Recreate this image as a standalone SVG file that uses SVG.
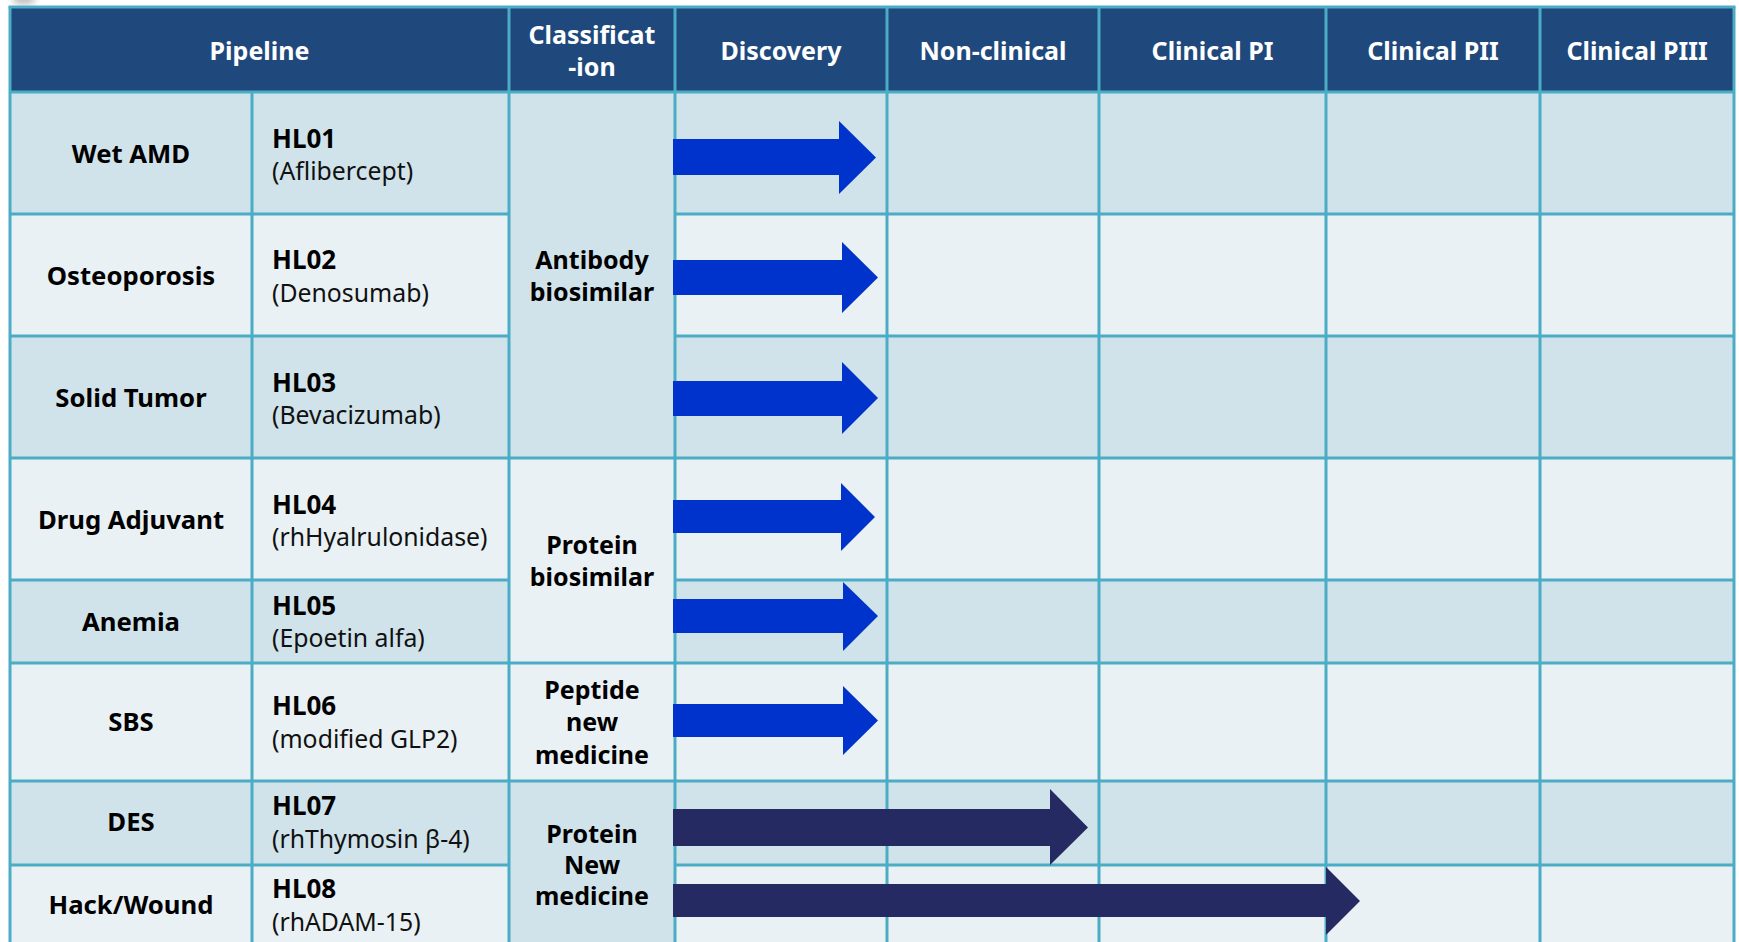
<svg xmlns="http://www.w3.org/2000/svg" width="1739" height="942" viewBox="0 0 1739 942">
<defs>
<style>
.hdr{fill:#1F497D}
.dk{fill:#D0E3EA}
.lt{fill:#E9F1F5}
.grid line{stroke:#4BACC6;stroke-width:3}
.ht{font-family:"Noto Sans","Open Sans","DejaVu Sans",sans-serif;font-weight:bold;font-size:25px;fill:#FFFFFF;text-anchor:middle}
.nm{font-family:"Noto Sans","Open Sans","DejaVu Sans",sans-serif;font-weight:bold;font-size:25.7px;fill:#000;text-anchor:middle}
.cd{font-family:"Noto Sans","Open Sans","DejaVu Sans",sans-serif;font-weight:bold;font-size:26px;fill:#000}
.sb{font-family:"Noto Sans","Open Sans","DejaVu Sans",sans-serif;font-size:24.8px;fill:#111}
.cl{font-family:"Noto Sans","Open Sans","DejaVu Sans",sans-serif;font-weight:bold;font-size:25px;fill:#000;text-anchor:middle}
.ab{fill:#0033CC}
.an{fill:#252A62}
</style>
<filter id="blur" x="-50%" y="-50%" width="200%" height="200%"><feGaussianBlur stdDeviation="3"/></filter>
</defs>
<rect width="1739" height="942" fill="#FFFFFF"/>
<ellipse cx="24" cy="0" rx="12" ry="4" fill="#B8B8B8" filter="url(#blur)"/>

<g id="header">
<rect class="hdr" x="10" y="7" width="1724" height="85"/>
<text class="ht" x="259.5" y="60">Pipeline</text>
<text class="ht" x="592" y="44">Classificat</text>
<text class="ht" x="592" y="76">-ion</text>
<text class="ht" x="781" y="60">Discovery</text>
<text class="ht" x="993" y="60">Non-clinical</text>
<text class="ht" x="1212.5" y="60">Clinical PI</text>
<text class="ht" x="1433" y="60">Clinical PII</text>
<text class="ht" x="1637" y="60">Clinical PIII</text>
</g>

<g id="row-backgrounds">
<rect class="dk" x="10" y="92" width="1724" height="122"/>
<rect class="lt" x="10" y="214" width="1724" height="122"/>
<rect class="dk" x="10" y="336" width="1724" height="122"/>
<rect class="lt" x="10" y="458" width="1724" height="122"/>
<rect class="dk" x="10" y="580" width="1724" height="83"/>
<rect class="lt" x="10" y="663" width="1724" height="118"/>
<rect class="dk" x="10" y="781" width="1724" height="84"/>
<rect class="lt" x="10" y="865" width="1724" height="77"/>
</g>

<g id="classification-cells">
<rect class="dk" x="509" y="92" width="166" height="366"/>
<rect class="lt" x="509" y="458" width="166" height="205"/>
<rect class="lt" x="509" y="663" width="166" height="118"/>
<rect class="dk" x="509" y="781" width="166" height="161"/>
</g>

<g id="grid" class="grid">
<line x1="8.5" y1="7" x2="1735.5" y2="7"/>
<line x1="10" y1="92" x2="1734" y2="92"/>
<line x1="10" y1="214" x2="509" y2="214"/>
<line x1="675" y1="214" x2="1734" y2="214"/>
<line x1="10" y1="336" x2="509" y2="336"/>
<line x1="675" y1="336" x2="1734" y2="336"/>
<line x1="10" y1="458" x2="1734" y2="458"/>
<line x1="10" y1="580" x2="509" y2="580"/>
<line x1="675" y1="580" x2="1734" y2="580"/>
<line x1="10" y1="663" x2="1734" y2="663"/>
<line x1="10" y1="781" x2="1734" y2="781"/>
<line x1="10" y1="865" x2="509" y2="865"/>
<line x1="675" y1="865" x2="1734" y2="865"/>
<line x1="10" y1="7" x2="10" y2="942"/>
<line x1="252" y1="92" x2="252" y2="942"/>
<line x1="509" y1="7" x2="509" y2="942"/>
<line x1="675" y1="7" x2="675" y2="942"/>
<line x1="887" y1="7" x2="887" y2="942"/>
<line x1="1099" y1="7" x2="1099" y2="942"/>
<line x1="1326" y1="7" x2="1326" y2="942"/>
<line x1="1540" y1="7" x2="1540" y2="942"/>
<line x1="1734" y1="7" x2="1734" y2="942"/>
</g>

<g id="row-HL01">
<text class="nm" x="131" y="163">Wet AMD</text>
<text class="cd" x="272" y="147.5">HL01</text>
<text class="sb" x="272" y="180">(Aflibercept)</text>
</g>
<g id="row-HL02">
<text class="nm" x="131" y="285">Osteoporosis</text>
<text class="cd" x="272" y="269">HL02</text>
<text class="sb" x="272" y="301.5">(Denosumab)</text>
</g>
<g id="row-HL03">
<text class="nm" x="131" y="407">Solid Tumor</text>
<text class="cd" x="272" y="391.5">HL03</text>
<text class="sb" x="272" y="423.5">(Bevacizumab)</text>
</g>
<g id="row-HL04">
<text class="nm" x="131" y="529">Drug Adjuvant</text>
<text class="cd" x="272" y="513.5">HL04</text>
<text class="sb" x="272" y="545.5">(rhHyalrulonidase)</text>
</g>
<g id="row-HL05">
<text class="nm" x="131" y="630.5">Anemia</text>
<text class="cd" x="272" y="615">HL05</text>
<text class="sb" x="272" y="647">(Epoetin alfa)</text>
</g>
<g id="row-HL06">
<text class="nm" x="131" y="730.5">SBS</text>
<text class="cd" x="272" y="715">HL06</text>
<text class="sb" x="272" y="747.5">(modified GLP2)</text>
</g>
<g id="row-HL07">
<text class="nm" x="131" y="831">DES</text>
<text class="cd" x="272" y="815">HL07</text>
<text class="sb" x="272" y="847.5">(rhThymosin β-4)</text>
</g>
<g id="row-HL08">
<text class="nm" x="131" y="914">Hack/Wound</text>
<text class="cd" x="272" y="898">HL08</text>
<text class="sb" x="272" y="930.5">(rhADAM-15)</text>
</g>

<g id="class-antibody-biosimilar">
<text class="cl" x="592" y="269">Antibody</text>
<text class="cl" x="592" y="300.5">biosimilar</text>
</g>
<g id="class-protein-biosimilar">
<text class="cl" x="592" y="554">Protein</text>
<text class="cl" x="592" y="586">biosimilar</text>
</g>
<g id="class-peptide-new-medicine">
<text class="cl" x="592" y="698.5">Peptide</text>
<text class="cl" x="592" y="731">new</text>
<text class="cl" x="592" y="763.5">medicine</text>
</g>
<g id="class-protein-new-medicine">
<text class="cl" x="592" y="842.5">Protein</text>
<text class="cl" x="592" y="874">New</text>
<text class="cl" x="592" y="905">medicine</text>
</g>

<g id="connectors">
<polygon class="ab" points="673,139 839,139 839,121 876,157.5 839,194 839,175 673,175"/>
<polygon class="ab" points="673,260 842,260 842,242 878,277.5 842,313 842,295 673,295"/>
<polygon class="ab" points="673,381 842,381 842,362 878,398 842,434 842,416 673,416"/>
<polygon class="ab" points="673,500 841,500 841,483 875,517 841,551 841,533 673,533"/>
<polygon class="ab" points="673,599 843,599 843,582 878,616 843,651 843,633 673,633"/>
<polygon class="ab" points="673,704 843,704 843,686 878,720.5 843,755 843,737 673,737"/>
<polygon class="an" points="673,809 1050,809 1050,789 1088,827.5 1050,865 1050,846 673,846"/>
<polygon class="an" points="673,884 1326,884 1326,867 1360,901 1326,935 1326,917 673,917"/>
</g>
</svg>
